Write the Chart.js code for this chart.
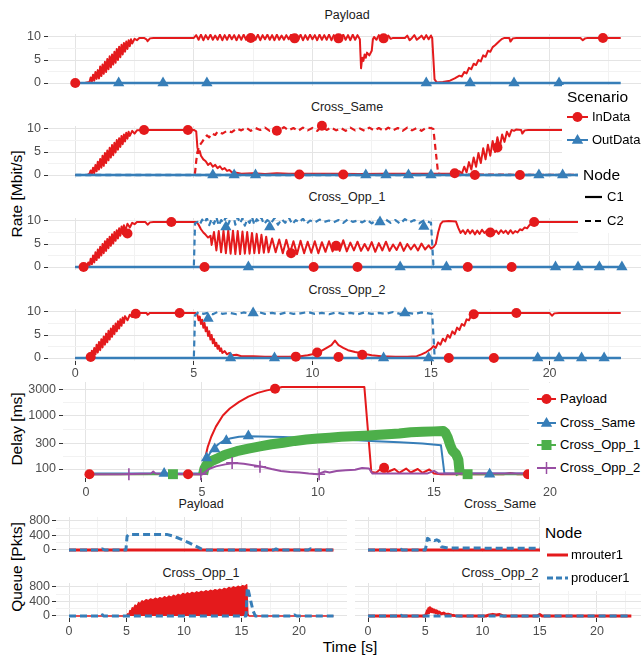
<!DOCTYPE html>
<html>
<head>
<meta charset="utf-8">
<title>Rate, delay and queue per scenario</title>
<script src="https://cdn.jsdelivr.net/npm/chart.js@4.4.0/dist/chart.umd.min.js"></script>
<style>
  html, body { margin: 0; padding: 0; background: #fff; }
  #page { position: relative; width: 641px; height: 658px; overflow: hidden; font-family: "Liberation Sans", Arial, sans-serif; }
  #page canvas { position: absolute; }
  .txt { position: absolute; white-space: nowrap; line-height: 16px; height: 16px; }
  .strip { font-size: 12.5px; color: #1A1A1A; transform: translateX(-50%); }
  .axt { font-size: 15.5px; color: #000; }
  .rot { transform: translate(-50%, -50%) rotate(-90deg); }
  .box { position: absolute; background: #fff; }
  .lt { font-size: 15.5px; color: #000; }
  .li { font-size: 13px; color: #000; }
  svg.key { position: absolute; overflow: visible; }
</style>
</head>
<body>
<div id="page">
  <!-- strip titles -->
  <div class="txt strip" style="left:347px;top:7px">Payload</div>
  <div class="txt strip" style="left:347px;top:99px">Cross_Same</div>
  <div class="txt strip" style="left:347px;top:189px">Cross_Opp_1</div>
  <div class="txt strip" style="left:347px;top:282px">Cross_Opp_2</div>
  <div class="txt strip" style="left:201px;top:496px">Payload</div>
  <div class="txt strip" style="left:500px;top:496px">Cross_Same</div>
  <div class="txt strip" style="left:201px;top:565px">Cross_Opp_1</div>
  <div class="txt strip" style="left:500px;top:565px">Cross_Opp_2</div>
  <!-- axis titles -->
  <div class="txt axt rot" style="left:17px;top:194px">Rate [Mbit/s]</div>
  <div class="txt axt rot" style="left:17px;top:429px">Delay [ms]</div>
  <div class="txt axt rot" style="left:17px;top:567px">Queue [Pkts]</div>
  <div class="txt axt" style="left:350px;top:639px;transform:translateX(-50%)">Time [s]</div>
</div>

<div id="legends" style="display:none">
  <!-- rate legend -->
  <div class="box" style="left:562px;top:85px;width:79px;height:80px"></div>
  <div class="box" style="left:578px;top:165px;width:63px;height:68px"></div>
  <div class="txt lt" style="left:567px;top:89px">Scenario</div>
  <svg class="key" style="left:567px;top:109px" width="21" height="16"><line x1="0" y1="8" x2="21" y2="8" stroke="#E41A1C" stroke-width="2"/><circle cx="10.5" cy="8" r="5" fill="#E41A1C"/></svg>
  <div class="txt li" style="left:592px;top:109px">InData</div>
  <svg class="key" style="left:567px;top:132px" width="21" height="16"><line x1="0" y1="8" x2="21" y2="8" stroke="#377EB8" stroke-width="2"/><polygon points="10.5,2 16.2,11.8 4.8,11.8" fill="#377EB8"/></svg>
  <div class="txt li" style="left:592px;top:132px">OutData</div>
  <div class="txt lt" style="left:583px;top:167px">Node</div>
  <svg class="key" style="left:585px;top:189px" width="17" height="16"><line x1="0" y1="8" x2="17" y2="8" stroke="#000" stroke-width="2.2"/></svg>
  <div class="txt li" style="left:607px;top:189px">C1</div>
  <svg class="key" style="left:585px;top:213px" width="17" height="16"><line x1="0" y1="8" x2="17" y2="8" stroke="#000" stroke-width="2.2" stroke-dasharray="6,4"/></svg>
  <div class="txt li" style="left:607px;top:213px">C2</div>
  <!-- delay legend -->
  <div class="box" style="left:529px;top:383px;width:112px;height:99px"></div>
  <svg class="key" style="left:537px;top:391px" width="19" height="16"><line x1="0" y1="8" x2="19" y2="8" stroke="#E41A1C" stroke-width="2"/><circle cx="9.5" cy="8" r="5" fill="#E41A1C"/></svg>
  <div class="txt li" style="left:560px;top:391px">Payload</div>
  <svg class="key" style="left:537px;top:415px" width="19" height="16"><line x1="0" y1="8" x2="19" y2="8" stroke="#377EB8" stroke-width="2"/><polygon points="9.5,2 15.2,11.8 3.8,11.8" fill="#377EB8"/></svg>
  <div class="txt li" style="left:560px;top:415px">Cross_Same</div>
  <svg class="key" style="left:537px;top:437px" width="19" height="16"><line x1="0" y1="8" x2="19" y2="8" stroke="#4DAF4A" stroke-width="2"/><rect x="4.5" y="3" width="10" height="10" fill="#4DAF4A"/></svg>
  <div class="txt li" style="left:560px;top:437px">Cross_Opp_1</div>
  <svg class="key" style="left:537px;top:460px" width="19" height="16"><line x1="0" y1="8" x2="19" y2="8" stroke="#984EA3" stroke-width="2"/><line x1="9.5" y1="2" x2="9.5" y2="14" stroke="#984EA3" stroke-width="1.5"/></svg>
  <div class="txt li" style="left:560px;top:460px">Cross_Opp_2</div>
  <!-- queue legend -->
  <div class="box" style="left:540px;top:514px;width:101px;height:77px"></div>
  <div class="txt lt" style="left:545px;top:525px">Node</div>
  <svg class="key" style="left:547px;top:547px" width="21" height="16"><line x1="0" y1="8" x2="21" y2="8" stroke="#E41A1C" stroke-width="3"/></svg>
  <div class="txt li" style="left:571px;top:547px">mrouter1</div>
  <svg class="key" style="left:547px;top:570px" width="21" height="16"><line x1="0" y1="8" x2="21" y2="8" stroke="#377EB8" stroke-width="3" stroke-dasharray="6,3"/></svg>
  <div class="txt li" style="left:571px;top:570px">producer1</div>
</div>

<script>
// Rate / delay / queue per scenario
var RED = '#E41A1C', BLUE = '#377EB8', GREEN = '#4DAF4A', PURPLE = '#984EA3';

var timeTicks = [0, 5, 10, 15, 20];
var timeMinor = [2.5, 7.5, 12.5, 17.5, 22.5];
var rateTicks = [0, 5, 10];
var rateMinor = [2.5, 7.5];
var delayTicks = [100, 300, 1000, 3000];
var delayMinor = [173, 548, 1732];
var queueTicks = [0, 400, 800];
var queueMinor = [200, 600];

// ---- Rate [Mbit/s], pairs of (time, value) ----
var payloadRateIn = [0,0, 0.4,0, 0.6,0.2, 0.65,1.2, 0.7,0.3, 0.75,1.8, 0.8,0.5, 0.85,2.4, 0.9,0.9, 0.95,2.8,
  1.0,1.0, 1.05,3.6, 1.1,1.5, 1.15,4.0, 1.2,2.0, 1.25,4.6, 1.3,2.4, 1.35,5.2, 1.4,3.0, 1.45,5.8, 1.5,3.4,
  1.55,6.2, 1.6,4.0, 1.65,6.8, 1.7,4.4, 1.75,7.4, 1.8,5.0, 1.85,7.9, 1.9,5.6, 1.95,8.3, 2.0,6.2, 2.05,8.7,
  2.1,6.8, 2.15,9.0, 2.2,7.4, 2.25,9.3, 2.3,8.0, 2.35,9.5, 2.4,8.6, 2.5,9.6, 2.6,9.3, 2.7,9.8, 2.9,9.8,
  3.0,9.5, 3.05,9.1, 3.15,9.7, 3.3,9.8, 5.0,9.8,
  5.1,10.4, 5.2,9.4, 5.3,10.5, 5.4,9.3, 5.5,10.4, 5.6,9.5, 5.7,10.5, 5.8,9.4, 5.9,10.3, 6.0,9.4, 6.1,10.5,
  6.2,9.3, 6.3,10.4, 6.4,9.4, 6.5,10.5, 6.6,9.5, 6.7,10.4, 6.8,9.3, 6.9,10.4, 7.0,9.4, 7.1,10.5, 7.2,9.4,
  7.3,10.3, 7.4,9.6, 7.5,10.4, 7.6,9.4, 7.7,10.5, 7.8,9.3, 7.9,10.4, 8.0,9.5, 8.1,10.5, 8.2,9.4, 8.3,10.4,
  8.4,9.3, 8.5,10.5, 8.6,9.4, 8.7,10.3, 8.8,9.4, 8.9,10.4, 9.0,9.5, 9.1,10.5, 9.2,9.6, 9.3,10.2, 9.4,9.4,
  9.5,10.5, 9.6,9.3, 9.7,10.4, 9.8,9.4, 9.9,10.5, 10.0,9.5, 10.1,10.4, 10.2,9.3, 10.3,10.5, 10.4,9.4,
  10.5,10.4, 10.6,9.4, 10.7,10.5, 10.8,9.3, 10.9,10.4, 11.0,9.6, 11.1,10.2, 11.2,9.4, 11.3,10.5, 11.4,9.4,
  11.5,10.4, 11.6,9.3, 11.7,10.5, 11.8,9.4, 11.9,10.4, 12.0,9.5,
  12.05,3.2, 12.1,5.5, 12.15,4.8, 12.2,6.2, 12.25,5.5, 12.3,6.6, 12.4,6.0, 12.5,7.0, 12.55,9.5, 12.6,10.0,
  12.7,9.4, 12.8,10.4, 12.9,9.5, 13.0,10.3, 13.1,9.5, 13.2,10.3, 13.3,9.6, 13.4,9.8, 13.9,9.8,
  14.0,10.3, 14.1,9.3, 14.2,9.8, 14.3,10.4, 14.4,9.4, 14.5,9.8, 14.6,10.3, 14.7,9.5, 14.8,10.4, 14.9,9.5,
  15.0,10.3, 15.05,9.8, 15.15,0.8, 15.25,0.1, 15.5,0.2, 15.8,0.5, 16.0,1.0, 16.2,1.6, 16.3,1.4, 16.4,2.4,
  16.5,2.1, 16.6,3.3, 16.7,3.0, 16.8,4.2, 16.9,3.9, 17.0,5.0, 17.1,4.7, 17.2,6.0, 17.3,5.7, 17.4,7.0,
  17.5,6.8, 17.6,7.8, 17.7,8.2, 17.8,8.7, 17.9,9.2, 18.0,9.6, 18.1,9.8, 18.3,9.8, 18.35,9.0, 18.45,9.7,
  18.6,9.8, 21.3,9.8, 21.4,9.3, 21.5,9.7, 21.6,9.8, 23.0,9.8];
var payloadRateOut = [0,0, 23,0];
var payloadInMarks = [0,0, 7.4,9.8, 9.25,9.7, 11.1,9.7, 13.0,9.7, 22.25,9.8];
var payloadOutMarkT = [1.83, 3.7, 5.55, 14.8, 16.65, 18.5, 20.4];

var sameRateInC1 = [0,0, 0.5,0, 0.6,0.3, 0.65,1.0, 0.7,0.2, 0.75,1.6, 0.8,0.4, 0.85,2.2, 0.9,0.8, 0.95,2.9,
  1.0,1.2, 1.05,3.5, 1.1,1.6, 1.15,4.2, 1.2,2.0, 1.25,4.8, 1.3,2.6, 1.35,5.3, 1.4,3.2, 1.45,5.9, 1.5,3.8,
  1.55,6.5, 1.6,4.3, 1.65,7.0, 1.7,4.9, 1.75,7.6, 1.8,5.5, 1.85,8.0, 1.9,6.1, 1.95,8.5, 2.0,6.7, 2.05,8.8,
  2.1,7.3, 2.15,9.2, 2.2,7.9, 2.25,9.4, 2.3,8.5, 2.4,9.6, 2.5,9.0, 2.6,9.7, 2.9,9.8, 5.0,9.8,
  5.1,9.5, 5.15,6.0, 5.2,4.8, 5.25,5.2, 5.3,4.2, 5.4,3.4, 5.5,3.0, 5.6,2.2, 5.7,2.6, 5.8,1.8, 5.9,2.2,
  6.0,1.5, 6.1,1.9, 6.2,1.2, 6.3,1.5, 6.4,0.9, 6.5,1.1, 6.6,0.6, 6.8,0.5, 7.0,0.3, 7.5,0.4, 8.0,0.2,
  8.5,0.4, 9.0,0.3, 10.0,0.3, 11.0,0.3, 12.0,0.2, 13.0,0.3, 14.0,0.3, 15.0,0.3, 15.8,0.3, 16.0,0.5,
  16.2,0.8, 16.3,0.3, 16.4,1.8, 16.5,0.6, 16.6,2.8, 16.7,1.2, 16.8,3.8, 16.9,1.8, 17.0,4.8, 17.1,2.6,
  17.2,5.8, 17.3,3.4, 17.4,6.6, 17.5,4.2, 17.6,7.4, 17.7,5.0, 17.8,8.2, 17.9,6.0, 18.0,8.8, 18.1,7.2,
  18.2,9.4, 18.3,8.4, 18.4,9.8, 18.5,9.6, 18.6,9.9, 18.8,9.8, 18.85,9.0, 18.95,9.7, 19.1,9.8, 23,9.8];
var sameRateInC2 = [0,0, 5.0,0, 5.05,0.5, 5.1,3.0, 5.15,5.0, 5.25,6.5, 5.35,7.2, 5.45,8.0, 5.55,8.6, 5.65,8.2,
  5.75,9.0, 5.9,8.7, 6.0,9.4, 6.2,9.0, 6.4,9.6, 6.6,9.3, 6.8,10.1, 7.0,9.7, 7.2,10.3, 7.4,9.6, 7.6,10.2,
  7.8,9.8, 8.0,10.3, 8.2,9.6, 8.4,10.1, 8.6,9.6, 8.8,10.4, 9.0,9.7, 9.2,10.2, 9.4,9.6, 9.6,10.3, 9.8,9.7,
  10.0,10.2, 10.2,9.6, 10.4,10.5, 10.6,9.8, 10.8,10.3, 11.0,9.7, 11.2,10.2, 11.4,9.6, 11.6,10.3, 11.8,9.7,
  12.0,10.1, 12.2,9.6, 12.4,10.3, 12.6,9.7, 12.8,10.2, 13.0,9.6, 13.2,10.3, 13.4,9.7, 13.6,10.2, 13.8,9.6,
  14.0,10.3, 14.2,9.7, 14.4,10.2, 14.6,9.6, 14.8,10.3, 15.0,10.2, 15.1,10.0, 15.3,0.3, 15.5,0.1, 23,0];
var sameRateOutC1 = [0,0, 23,0];
var sameRateOutC2 = [0,0, 23,0];
var sameInMarks = [2.9,9.8, 4.75,9.8, 8.5,9.6, 9.45,0.1, 10.4,10.7, 11.3,0.1, 16.0,0.4, 16.85,0, 17.8,6.0, 18.75,0];
var sameOutMarkT = [5.8, 6.7, 7.6, 12.25, 13.1, 14.05, 15.0, 19.55, 20.55];

var opp1RateInC1 = [0,0, 0.3,0, 0.5,0.2, 0.55,1.0, 0.6,0.3, 0.65,1.8, 0.7,0.6, 0.75,2.5, 0.8,1.0, 0.85,3.2,
  0.9,1.5, 0.95,3.8, 1.0,2.0, 1.05,4.4, 1.1,2.5, 1.15,5.0, 1.2,3.0, 1.25,5.6, 1.3,3.5, 1.35,6.1, 1.4,4.1,
  1.45,6.6, 1.5,4.6, 1.55,7.1, 1.6,5.1, 1.65,7.6, 1.7,5.7, 1.75,8.0, 1.8,6.2, 1.85,8.4, 1.9,6.8, 1.95,8.8,
  2.0,7.2, 2.05,9.1, 2.1,7.8, 2.2,9.4, 2.3,8.6, 2.4,9.6, 2.5,9.3, 2.6,9.8, 2.95,9.8, 3.05,9.2, 3.15,9.7,
  3.3,9.8, 5.1,9.8, 5.2,9.2, 5.3,8.2, 5.4,7.5, 5.5,7.0, 5.6,6.4, 5.7,6.8, 5.75,4.8, 5.85,7.6, 5.95,3.6,
  6.05,7.8, 6.15,3.2, 6.25,7.9, 6.35,3.0, 6.45,8.0, 6.55,2.9, 6.65,7.9, 6.75,2.8, 6.85,7.8, 6.95,2.8,
  7.05,7.7, 7.15,2.9, 7.25,7.6, 7.35,2.9, 7.45,7.4, 7.55,3.0, 7.65,7.2, 7.75,3.0, 7.85,7.0, 7.95,3.1,
  8.05,6.6, 8.15,3.2, 8.3,6.2, 8.45,3.2, 8.6,6.0, 8.75,3.0, 8.9,5.9, 9.05,3.0, 9.2,5.6, 9.35,2.8, 9.5,5.7,
  9.65,3.0, 9.8,5.5, 9.95,3.1, 10.1,5.6, 10.25,3.0, 10.4,5.4, 10.55,3.3, 10.7,5.6, 10.85,3.4, 11.0,5.2,
  11.15,3.5, 11.3,5.8, 11.45,3.4, 11.6,5.3, 11.75,3.6, 11.9,5.5, 12.05,3.5, 12.2,5.0, 12.35,3.6, 12.5,5.4,
  12.65,3.3, 12.8,5.2, 12.95,3.6, 13.1,5.5, 13.25,3.5, 13.4,4.9, 13.55,3.7, 13.7,5.3, 13.85,3.5, 14.0,5.0,
  14.15,3.8, 14.3,4.9, 14.45,3.6, 14.6,5.1, 14.75,3.8, 14.9,4.7, 15.0,4.0, 15.1,4.3, 15.2,5.0, 15.3,7.5,
  15.4,9.3, 15.5,9.9, 15.75,10.0, 16.05,9.9, 16.15,8.5, 16.25,7.4, 16.35,8.0, 16.45,7.2, 16.55,8.1,
  16.65,7.3, 16.75,8.0, 16.85,7.1, 16.95,7.9, 17.05,7.2, 17.15,8.1, 17.25,7.4, 17.35,7.8, 17.45,7.2,
  17.55,8.0, 17.65,7.3, 17.75,7.9, 17.85,7.2, 17.95,8.0, 18.05,7.4, 18.15,7.9, 18.25,7.2, 18.35,8.0,
  18.45,7.3, 18.55,7.8, 18.65,7.5, 18.75,8.2, 18.85,8.0, 18.95,8.6, 19.05,8.4, 19.15,9.1, 19.25,9.4,
  19.35,9.8, 19.5,9.8, 23,9.8];
var opp1RateInC2 = [0,0, 23,0];
var opp1RateOutC1 = [0,0, 23,0];
var opp1RateOutC2 = [0,0, 5.0,0, 5.05,9.5, 5.15,9.8, 5.25,9.2, 5.35,10.3, 5.45,9.6, 5.55,10.6, 5.65,9.1,
  5.75,10.4, 5.85,9.4, 5.95,10.8, 6.05,9.0, 6.15,10.2, 6.25,9.6, 6.35,10.9, 6.45,9.3, 6.55,10.5, 6.65,11.6,
  6.75,9.2, 6.85,10.8, 6.95,9.5, 7.05,10.6, 7.15,9.0, 7.25,10.3, 7.35,9.6, 7.45,10.9, 7.55,9.2, 7.65,10.4,
  7.75,9.8, 7.85,10.7, 7.95,9.3, 8.1,10.2, 8.25,9.5, 8.4,10.6, 8.55,9.2, 8.7,10.4, 8.85,9.6, 9.0,10.8,
  9.15,9.3, 9.3,10.2, 9.45,9.7, 9.6,10.5, 9.75,9.4, 9.9,10.1, 10.1,9.7, 10.3,10.3, 10.5,9.8, 10.7,10.1,
  10.9,9.7, 11.1,10.2, 11.3,9.6, 11.5,10.4, 11.7,9.8, 11.9,10.1, 12.1,9.7, 12.3,10.3, 12.5,9.5, 12.7,10.2,
  12.9,9.8, 13.1,10.3, 13.3,9.6, 13.5,10.2, 13.7,9.4, 13.9,10.4, 14.1,9.7, 14.3,10.2, 14.5,9.5, 14.7,10.1,
  14.9,9.8, 15.0,9.6, 15.1,0.5, 15.2,0, 23,0];
var opp1InMarks = [0.35,0, 2.2,7.3, 4.05,9.8, 5.45,0, 9.1,3.0, 10.05,0, 11.0,4.6, 11.9,0, 16.55,0, 17.5,7.5, 18.4,0, 19.35,9.8];
var opp1OutC1MarkT = [7.3, 13.7, 15.65, 20.25, 21.2, 22.1, 23.05];
var opp1OutC2Marks = [6.35,8.7, 8.2,8.7, 12.85,9.8, 14.7,8.8];

var opp2RateInC1 = [0,0, 0.45,0, 0.55,0.3, 0.6,1.0, 0.65,0.2, 0.7,1.6, 0.75,0.4, 0.8,2.2, 0.85,0.8, 0.9,2.9,
  0.95,1.2, 1.0,3.5, 1.05,1.7, 1.1,4.1, 1.15,2.3, 1.2,4.7, 1.25,2.9, 1.3,5.3, 1.35,3.4, 1.4,5.9, 1.45,4.0,
  1.5,6.4, 1.55,4.6, 1.6,7.0, 1.65,5.2, 1.7,7.5, 1.75,5.8, 1.8,8.0, 1.85,6.4, 1.9,8.4, 1.95,7.0, 2.0,8.8,
  2.05,7.6, 2.1,9.1, 2.2,8.2, 2.3,9.4, 2.4,8.9, 2.5,9.6, 2.65,9.8, 3.0,9.8, 3.05,9.4, 3.15,9.8, 5.05,9.8,
  5.15,9.4, 5.2,8.2, 5.25,9.0, 5.3,7.4, 5.35,8.3, 5.4,6.6, 5.45,7.6, 5.5,5.8, 5.55,6.7, 5.6,4.8, 5.65,5.8,
  5.7,4.0, 5.75,5.0, 5.8,3.2, 5.85,4.1, 5.9,2.6, 5.95,3.3, 6.0,2.0, 6.05,2.7, 6.1,1.5, 6.15,2.1, 6.2,1.1,
  6.3,1.5, 6.4,0.8, 6.5,1.1, 6.6,0.6, 6.8,0.7, 7.0,0.4, 7.5,0.4, 8.0,0.3, 8.5,0.3, 9.0,0.3, 9.5,0.4,
  9.8,0.6, 10.0,0.8, 10.2,1.0, 10.4,1.6, 10.6,2.2, 10.8,2.8, 10.95,3.8, 11.1,2.8, 11.3,2.2, 11.5,1.7,
  11.8,1.3, 12.1,1.0, 12.5,0.6, 12.9,0.4, 13.5,0.3, 14.0,0.3, 14.4,0.4, 14.6,0.8, 14.8,1.3, 15.0,2.0,
  15.1,2.6, 15.2,2.2, 15.3,3.4, 15.4,2.9, 15.5,4.2, 15.6,3.6, 15.7,5.0, 15.8,4.4, 15.9,5.8, 16.0,5.2,
  16.1,6.6, 16.2,6.1, 16.3,7.4, 16.4,7.0, 16.5,8.4, 16.6,8.2, 16.7,9.3, 16.8,9.5, 17.0,9.8, 20.0,9.8,
  20.1,9.2, 20.2,9.7, 20.4,9.8, 23,9.8];
var opp2RateInC2 = [0,0, 23,0];
var opp2RateOutC1 = [0,0, 23,0];
var opp2RateOutC2 = [0,0, 5.0,0, 5.05,9.3, 5.2,10.0, 5.4,9.6, 5.6,9.8, 5.8,9.5, 6.0,10.0, 6.2,9.6, 6.5,9.8,
  6.8,9.5, 7.1,9.9, 7.4,9.6, 7.7,10.0, 8.0,9.6, 8.3,9.8, 8.6,9.5, 8.9,9.9, 9.2,9.6, 9.5,9.7, 9.8,10.0,
  10.1,9.6, 10.4,9.8, 10.7,9.5, 11.0,9.9, 11.3,9.6, 11.6,9.8, 11.9,9.5, 12.2,9.9, 12.5,9.6, 12.8,9.8,
  13.1,9.6, 13.4,10.0, 13.7,9.6, 14.0,9.8, 14.3,9.6, 14.6,9.9, 14.9,9.7, 15.05,9.6, 15.15,0.5, 15.25,0, 23,0];
var opp2InMarks = [0.65,0.2, 2.55,9.6, 4.4,9.8, 9.3,0.3, 10.2,1.2, 11.1,0.2, 12.1,0.7, 15.75,0, 16.8,9.5, 17.65,0, 18.6,9.8];
var opp2OutC1MarkT = [6.55, 8.4, 13.0, 14.9, 19.5, 20.4, 21.35, 22.3];
var opp2OutC2Marks = [5.6,8.6, 7.5,9.8, 13.9,9.8];

// ---- Delay [ms] ----
var delayPayload = [0,80, 3,81, 5.0,80, 5.05,90, 5.15,170, 5.25,260, 5.4,400, 5.6,620, 5.9,1000, 6.2,1350,
  6.6,1800, 7.0,2250, 7.4,2650, 7.8,2950, 8.15,3150, 8.45,3400, 12.0,3400, 12.3,88, 12.5,85, 12.7,100,
  12.85,105, 13.0,88, 13.3,100, 13.5,85, 13.8,102, 14.0,86, 14.3,100, 14.5,85, 14.8,98, 15.0,82, 15.3,80,
  18,80, 18.3,84, 18.6,80, 23,80];
var delaySame = [0,82, 5.0,82, 5.1,115, 5.2,150, 5.35,200, 5.5,240, 5.7,290, 5.9,330, 6.2,370, 6.6,400,
  7.0,410, 7.5,405, 8.5,395, 9.5,380, 10.5,365, 11.5,350, 12.5,330, 13.5,315, 14.5,300, 15.3,278, 15.45,82, 23,82];
var delayOpp1 = [0,80, 5.05,80, 5.1,100, 5.2,120, 5.4,140, 5.7,160, 6.0,185, 6.5,215, 7.0,240, 7.5,265,
  8.0,290, 8.5,310, 9.0,335, 9.5,355, 10.0,370, 10.5,385, 11.0,400, 11.5,410, 12.0,420, 12.5,432, 13.0,445,
  13.5,460, 14.0,485, 14.5,495, 15.0,505, 15.4,515, 15.5,470, 15.6,380, 15.7,280, 15.8,220, 15.95,190,
  16.05,150, 16.1,90, 16.15,80, 23,80];
var delayOpp2 = [0,80, 1.5,80, 2.8,82, 2.9,90, 3.0,82, 4.5,80, 5.0,80, 5.1,85, 5.3,100, 5.6,112, 6.0,122,
  6.4,130, 6.8,125, 7.2,118, 7.6,110, 8.0,100, 8.4,92, 8.8,88, 9.2,86, 9.6,82, 10.0,80, 10.3,90, 10.5,86,
  10.8,92, 11.2,95, 11.6,97, 11.9,104, 12.2,102, 12.35,82, 14.7,82, 15.0,92, 15.2,82, 23,82];
var delayPayloadMarks = [0.15,80, 4.4,80, 8.15,3150, 12.85,105, 19.05,80];
var delaySameMarks = [3.37,82, 5.2,160, 5.55,236, 6.05,338, 7.0,413, 17.4,80];
var delayOpp1Marks = [3.75,80, 16.45,80];
var delayOpp2Marks = [1.85,80, 4.95,80, 6.3,130, 7.5,110, 10.05,80];

// ---- Queue [Pkts] ----
var queuePayloadRouter = [0,0, 23,0];
var queuePayloadProducer = [0,0, 2.7,0, 2.9,30, 3.1,0, 4.95,0, 5.05,380, 5.2,430, 8.5,430, 9.0,390, 9.5,330,
  10.0,260, 10.5,190, 11.0,110, 11.5,30, 11.8,0, 17.8,0, 18.0,30, 18.2,0, 20.8,0, 21.0,35, 21.2,0, 23,0];
var queueSameRouter = [0,0, 23,0];
var queueSameProducer = [0,0, 2.8,0, 2.9,20, 3.0,0, 5.0,0, 5.1,150, 5.2,320, 5.4,280, 5.6,300, 5.8,260,
  6.0,280, 6.2,250, 6.4,90, 7.0,55, 15,45, 16,20, 17,0, 23,0];
var queueOpp1Router = [0,0, 5.0,0, 5.1,60, 5.2,30, 5.3,150, 5.4,110, 5.5,230, 5.6,190, 5.75,300, 5.9,260,
  6.05,370, 6.2,340, 6.35,420, 6.5,390, 6.7,450, 6.9,420, 7.1,470, 7.3,440, 7.5,490, 7.7,455, 7.9,505,
  8.1,475, 8.3,530, 8.5,495, 8.7,550, 8.9,515, 9.1,570, 9.3,535, 9.5,595, 9.7,560, 9.9,620, 10.1,585,
  10.3,640, 10.5,605, 10.7,650, 10.9,620, 11.1,665, 11.3,635, 11.5,680, 11.7,650, 11.9,695, 12.1,665,
  12.3,710, 12.5,680, 12.7,725, 12.9,695, 13.1,740, 13.3,710, 13.5,760, 13.7,730, 13.9,785, 14.1,755,
  14.3,805, 14.5,775, 14.7,820, 14.9,790, 15.1,835, 15.3,815, 15.45,860, 15.55,60, 15.65,0, 23,0];
var queueOpp1Producer = [0,0, 2.8,0, 2.9,35, 3.0,0, 15.4,0, 15.5,780, 15.6,700, 15.8,420, 16.0,150, 16.2,0,
  19.4,0, 19.6,30, 19.8,0, 23,0];
var queueOpp2Router = [0,0, 5.0,0, 5.1,60, 5.2,150, 5.25,90, 5.3,210, 5.35,130, 5.4,230, 5.45,150, 5.5,200,
  5.55,120, 5.6,190, 5.7,110, 5.8,160, 5.9,90, 6.0,140, 6.1,70, 6.2,110, 6.4,60, 6.6,80, 6.8,40, 7.0,50,
  7.3,20, 7.6,10, 8,0, 10.3,0, 10.6,30, 10.9,45, 11.2,30, 11.5,40, 11.8,0, 14.8,0, 15.0,40, 15.2,0, 23,0];
var queueOpp2Producer = [0,0, 2.8,0, 2.9,20, 3.0,0, 23,0];

// ---- helpers ----
Chart.defaults.font.family = '"Liberation Sans", Arial, sans-serif';
var page = document.getElementById('page');

function pairs(a) {
  var r = [];
  for (var i = 0; i < a.length; i += 2) r.push({ x: a[i], y: a[i + 1] });
  return r;
}
function onZero(ts) {
  return ts.map(function(t) { return { x: t, y: 0 }; });
}
function lineSet(a, color, width, dash) {
  return { data: pairs(a), borderColor: color, backgroundColor: color, borderWidth: width, borderDash: dash || [],
    pointRadius: 0, pointHoverRadius: 0, fill: false, tension: 0, borderJoinStyle: 'round', parsing: false };
}
function markSet(pts, color, style, r) {
  return { data: pts, showLine: false, pointStyle: style, pointRadius: r, pointHoverRadius: r,
    pointBackgroundColor: color, pointBorderColor: color, pointBorderWidth: style === 'cross' ? 1.6 : 0,
    parsing: false, clip: 10 };
}

function axis(min, max, major, minor, type, labels, size, horiz, pad, ticksOn) {
  function isMajor(c) { return c.tick && major.indexOf(c.tick.value) >= 0; }
  return {
    type: type, min: min, max: max, position: horiz ? 'bottom' : 'left',
    border: { display: false },
    grid: {
      color: function(c) { return isMajor(c) ? '#E4E4E4' : '#F2F2F2'; },
      lineWidth: 1,
      drawTicks: ticksOn, tickLength: 4, tickWidth: 1,
      tickColor: function(c) { return isMajor(c) ? '#333333' : 'rgba(0,0,0,0)'; }
    },
    ticks: { display: labels, autoSkip: false, maxRotation: 0, minRotation: 0, padding: pad, color: '#4D4D4D',
      font: { size: 12.5 },
      callback: function(v) { return major.indexOf(v) >= 0 ? String(v) : ''; } },
    afterBuildTicks: function(s) {
      s.ticks = major.concat(minor).map(function(v) { return { value: v }; });
    },
    afterFit: function(s) {
      if (horiz) s.height = size; else s.width = size;
      s.paddingTop = 0; s.paddingBottom = 0; s.paddingLeft = 0; s.paddingRight = 0;
    }
  };
}

// o: chart area in page px (l, t, w, h), y-axis width yw, x-axis height xh
function makeChart(o) {
  var padT = 7, padB = o.xh ? 0 : 7;
  var cv = document.createElement('canvas');
  var cw = o.yw + o.w, ch = padT + o.h + o.xh + padB;
  cv.width = cw; cv.height = ch;
  cv.style.left = (o.l - o.yw) + 'px';
  cv.style.top = (o.t - padT) + 'px';
  cv.style.width = cw + 'px';
  cv.style.height = ch + 'px';
  page.appendChild(cv);
  new Chart(cv, {
    type: 'line',
    data: { datasets: o.datasets.slice().reverse() },
    options: {
      responsive: false, animation: false, devicePixelRatio: 1, events: [],
      layout: { padding: { top: padT, bottom: padB, left: 0, right: 0 }, autoPadding: false },
      plugins: { legend: { display: false }, tooltip: { enabled: false } },
      scales: {
        x: axis(o.xmin, o.xmax, timeTicks, timeMinor, 'linear', !!o.xh, o.xh, true, o.xpad || 2, !!o.xh),
        y: axis(o.ymin, o.ymax, o.yTicks, o.yMinor, o.yType || 'linear', o.yw > 0, o.yw, false, o.ypad || 3, o.yw > 0)
      }
    }
  });
}

// ---- rate panels ----
function ratePanel(top, datasets, showX) {
  makeChart({ l: 48, t: top, w: 600, h: 52, yw: 48, xh: showX ? 22 : 0, xpad: 1, ypad: 3,
    xmin: -1.15, xmax: 24.15, ymin: -0.65, ymax: 10.65, yTicks: rateTicks, yMinor: rateMinor,
    datasets: datasets });
}
var dashRate = [6, 4];
ratePanel(34, [
  lineSet(payloadRateIn, RED, 2),
  lineSet(payloadRateOut, BLUE, 2.5),
  markSet(pairs(payloadInMarks), RED, 'circle', 5),
  markSet(onZero(payloadOutMarkT), BLUE, 'triangle', 6.5)
], false);
ratePanel(126, [
  lineSet(sameRateInC1, RED, 2),
  lineSet(sameRateInC2, RED, 2.2, dashRate),
  lineSet(sameRateOutC1, BLUE, 2.5),
  lineSet(sameRateOutC2, BLUE, 2.5, dashRate),
  markSet(pairs(sameInMarks), RED, 'circle', 5),
  markSet(onZero(sameOutMarkT), BLUE, 'triangle', 6.5)
], false);
ratePanel(218, [
  lineSet(opp1RateInC1, RED, 2),
  lineSet(opp1RateInC2, RED, 2.2, dashRate),
  lineSet(opp1RateOutC1, BLUE, 2.5),
  lineSet(opp1RateOutC2, BLUE, 2.2, dashRate),
  markSet(pairs(opp1InMarks), RED, 'circle', 5),
  markSet(onZero(opp1OutC1MarkT), BLUE, 'triangle', 6.5),
  markSet(pairs(opp1OutC2Marks), BLUE, 'triangle', 6.5)
], false);
ratePanel(309, [
  lineSet(opp2RateInC1, RED, 2),
  lineSet(opp2RateInC2, RED, 2.2, dashRate),
  lineSet(opp2RateOutC1, BLUE, 2.5),
  lineSet(opp2RateOutC2, BLUE, 2.2, dashRate),
  markSet(pairs(opp2InMarks), RED, 'circle', 5),
  markSet(onZero(opp2OutC1MarkT), BLUE, 'triangle', 6.5),
  markSet(pairs(opp2OutC2Marks), BLUE, 'triangle', 6.5)
], true);

// ---- delay panel ----
var greenBand = lineSet(delayOpp1, GREEN, 2);
greenBand.segment = {
  borderWidth: function(c) { return (c.p0.parsed.x >= 5.05 && c.p1.parsed.x <= 16.15) ? 10 : 2; }
};
makeChart({ l: 63, t: 382, w: 506, h: 96, yw: 63, xh: 22, xpad: 3, ypad: 3,
  xmin: -0.99, xmax: 20.82, ymin: 67.9, ymax: 4227, yType: 'logarithmic',
  yTicks: delayTicks, yMinor: delayMinor,
  datasets: [
    lineSet(delayPayload, RED, 2),
    lineSet(delaySame, BLUE, 2),
    greenBand,
    lineSet(delayOpp2, PURPLE, 2),
    markSet(pairs(delayPayloadMarks), RED, 'circle', 5),
    markSet(pairs(delaySameMarks), BLUE, 'triangle', 6.5),
    markSet(pairs(delayOpp1Marks), GREEN, 'rect', 7),
    markSet(pairs(delayOpp2Marks), PURPLE, 'cross', 6)
  ] });

// ---- queue panels ----
var dashQueue = [7, 4];
function queuePanel(left, top, yw, showX, router, producer, filled) {
  var r = lineSet(router, RED, 3);
  if (filled) { r.fill = 'origin'; r.borderWidth = 1.5; }
  var w = left < 100 ? 291 : 290;
  var x0 = left < 100 ? 69 : 368, ppu = left < 100 ? 11.5 : 11.45;
  makeChart({ l: left, t: top, w: w, h: 35, yw: yw, xh: showX ? 20 : 0, xpad: 2, ypad: 2,
    xmin: -(x0 - left) / ppu, xmax: -(x0 - left) / ppu + w / ppu, ymin: -55.5, ymax: 910,
    yTicks: queueTicks, yMinor: queueMinor,
    datasets: [r, lineSet(producer, BLUE, 3, dashQueue)] });
}
queuePanel(56, 517, 56, false, queuePayloadRouter, queuePayloadProducer, false);
queuePanel(355, 517, 0, false, queueSameRouter, queueSameProducer, false);
queuePanel(56, 583, 56, true, queueOpp1Router, queueOpp1Producer, true);
queuePanel(355, 583, 0, true, queueOpp2Router, queueOpp2Producer, false);

// legends go on top of the canvases
var lg = document.getElementById('legends');
while (lg.firstElementChild) page.appendChild(lg.firstElementChild);
</script>
</body>
</html>
